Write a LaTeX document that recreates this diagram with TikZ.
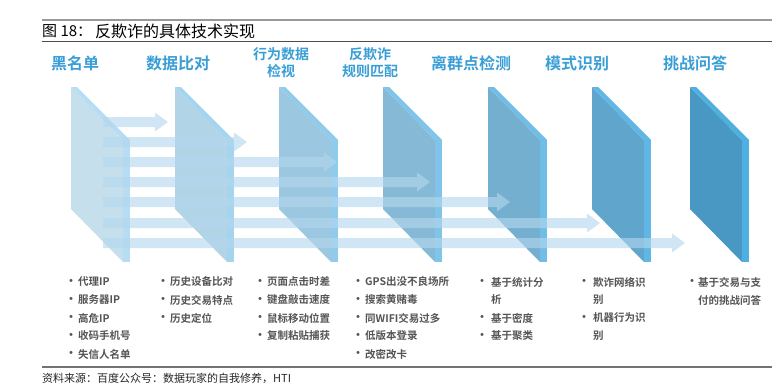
\documentclass[tikz,border=0pt]{standalone}
\usepackage{fontspec}
\newfontfamily\cjk{Noto Sans CJK SC}[BoldFont={* Bold}]
\definecolor{hdr}{RGB}{58,158,214}
\definecolor{txt}{RGB}{85,85,85}
\definecolor{arr}{RGB}{180,215,238}
\definecolor{pa}{RGB}{197,223,237}\definecolor{sa}{RGB}{182,221,243}
\definecolor{pb}{RGB}{178,212,231}\definecolor{sb}{RGB}{165,212,239}
\definecolor{pc}{RGB}{155,199,224}\definecolor{sc}{RGB}{145,203,236}
\definecolor{pd}{RGB}{134,185,214}\definecolor{sd}{RGB}{128,196,233}
\definecolor{pe}{RGB}{116,175,207}\definecolor{se}{RGB}{112,189,230}
\definecolor{pf}{RGB}{96,165,204}\definecolor{sf}{RGB}{96,182,228}
\definecolor{pg}{RGB}{72,152,195}\definecolor{sg}{RGB}{80,175,225}
\tikzset{
  head/.style={font=\cjk\bfseries\fontsize{16}{17}\selectfont, text=hdr, inner sep=0pt, align=center},
  head2/.style={font=\cjk\bfseries\fontsize{14}{17}\selectfont, text=hdr, inner sep=0pt, align=center},
  itm/.style={font=\cjk\bfseries\fontsize{10.5}{12}\selectfont, text=txt, inner sep=0pt, anchor=west},
  dotm/.style={font=\cjk\bfseries\fontsize{12}{12}\selectfont, text=txt, inner sep=0pt, yshift=-0.5pt},
  arrowbar/.style={fill=arr, opacity=0.62}
}
\begin{document}
\begin{tikzpicture}[x=1pt,y=-1pt]
\useasboundingbox (0,0) rectangle (772,391);
% rules
\draw[line width=1.8pt, black!40] (42,20) -- (772,20);
\draw[line width=1pt, black!70] (42,41) -- (772,41);
\draw[line width=1.2pt, black!55] (42,367) -- (772,367);
% title
\node[font=\cjk\fontsize{15}{16}\selectfont, anchor=west, inner sep=0pt] (t1) at (42,31) {图 18：};
\node[font=\cjk\fontsize{16}{16}\selectfont, anchor=west, inner sep=0pt] (t2) at (95,31) {反欺诈的具体技术实现};
% headers
\node[head] (h1) at (75,63) {黑名单};
\node[head] (h2) at (178,63) {数据比对};
\node[head2] (h3) at (281,63) {行为数据\\检视};
\node[head2] (h4) at (370,63) {反欺诈\\规则匹配};
\node[head] (h5) at (471,63) {离群点检测};
\node[head] (h6) at (577,63) {模式识别};
\node[head] (h7) at (695,63) {挑战问答};
% panels
\foreach \x/\c/\s in {71/pa/sa, 175/pb/sb, 279/pc/sc, 383/pd/sd, 488/pe/se, 592/pf/sf, 690/pg/sg}{
  \fill[\c] (\x,87) -- (\x+52,140) -- (\x+52,262) -- (\x,209) -- cycle;
  \fill[\s] (\x,87) -- (\x+6,87) -- (\x+59,140) -- (\x+52,140) -- cycle;
  \fill[\s] (\x+52,140) rectangle (\x+59,262);
}
% arrows
\foreach \y/\t in {122/168, 142/247, 162/337, 182/430, 202/510, 223/600, 243/685}{
  \fill[arrowbar] (103,\y-5) -- (\t-13,\y-5) -- (\t-13,\y-9.5) -- (\t,\y) -- (\t-13,\y+9.5) -- (\t-13,\y+5) -- (103,\y+5) -- cycle;
}
% bullet lists
\foreach \txt [count=\i] in {代理IP, 服务器IP, 高危IP, 收码手机号, 失信人名单}{
  \node[dotm] (d1\i) at (71,264+18*\i) {·};
  \node[itm] (a1\i) at (78,264+18*\i) {\txt};
}
\foreach \txt [count=\i] in {历史设备比对, 历史交易特点, 历史定位}{
  \node[dotm] (d2\i) at (163,264+18*\i) {·};
  \node[itm] (a2\i) at (170,264+18*\i) {\txt};
}
\foreach \txt [count=\i] in {页面点击时差, 键盘敲击速度, 鼠标移动位置, 复制粘贴捕获}{
  \node[dotm] (d3\i) at (260,264+18*\i) {·};
  \node[itm] (a3\i) at (267,264+18*\i) {\txt};
}
\foreach \txt [count=\i] in {GPS出没不良场所, 搜索黄赌毒, 同WIFI交易过多, 低版本登录, 改密改卡}{
  \node[dotm] (d4\i) at (358,264+18*\i) {·};
  \node[itm] (a4\i) at (365,264+18*\i) {\txt};
}
\node[dotm] (d51) at (482,282) {·};
\node[itm] (a51) at (491,282) {基于统计分};
\node[itm] (a52) at (491,300) {析};
\node[dotm] (d53) at (482,318) {·};
\node[itm] (a53) at (491,318) {基于密度};
\node[dotm] (d54) at (482,336) {·};
\node[itm] (a54) at (491,336) {基于聚类};
\node[dotm] (d61) at (584,282) {·};
\node[itm] (a61) at (593,282) {欺诈网络识};
\node[itm] (a62) at (593,300) {别};
\node[dotm] (d63) at (584,318) {·};
\node[itm] (a63) at (593,318) {机器行为识};
\node[itm] (a64) at (593,336) {别};
\node[dotm] (d71) at (692,282) {·};
\node[itm] (a71) at (698,282) {基于交易与支};
\node[itm] (a72) at (698,300) {付的挑战问答};
% source
\node[font=\cjk\fontsize{11}{12}\selectfont, anchor=west, inner sep=0pt, text=black!85] (src) at (42,378) {资料来源：百度公众号：数据玩家的自我修养，HTI};
\end{tikzpicture}
\end{document}
